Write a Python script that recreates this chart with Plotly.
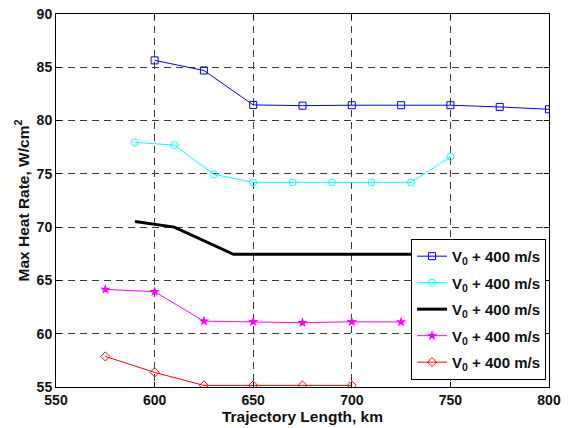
import plotly.graph_objects as go

# Trajectory length (km) and peak heat rate (W/cm^2) for each case
blue_x = [600, 625, 650, 675, 700, 725, 750, 775, 800]
blue_y = [85.65, 84.7, 81.47, 81.4, 81.44, 81.44, 81.44, 81.28, 81.06]

cyan_x = [590, 610, 630, 650, 670, 690, 710, 730, 750]
cyan_y = [77.96, 77.7, 74.96, 74.2, 74.2, 74.2, 74.2, 74.2, 76.6]

black_x = [590, 610, 640, 730]
black_y = [70.53, 70.0, 67.45, 67.45]

magenta_x = [575, 600, 625, 650, 675, 700, 725]
magenta_y = [64.16, 63.94, 61.18, 61.12, 61.03, 61.12, 61.1]

red_x = [575, 600, 625, 650, 675, 700]
red_y = [57.87, 56.37, 55.15, 55.15, 55.15, 55.15]

legend_name = "V<sub>0</sub> + 400 m/s"

x_ticks = [550, 600, 650, 700, 750, 800]
y_ticks = [55, 60, 65, 70, 75, 80, 85, 90]

FONT = "Liberation Sans, Arial, Helvetica"
TXT = "#111111"

fig = go.Figure()

fig.add_trace(go.Scatter(
    x=blue_x, y=blue_y, name=legend_name, mode="lines+markers", legendgroup="a",
    line=dict(color="#0000ff", width=1),
    marker=dict(symbol="square-open", size=7, color="#0000ff", line=dict(width=1)),
))
fig.add_trace(go.Scatter(
    x=cyan_x, y=cyan_y, name=legend_name, mode="lines+markers", legendgroup="b",
    line=dict(color="#00ffff", width=1),
    marker=dict(symbol="circle-open", size=7, color="#00ffff", line=dict(width=1)),
))
fig.add_trace(go.Scatter(
    x=black_x, y=black_y, name=legend_name, mode="lines", legendgroup="c",
    line=dict(color="#000000", width=3),
))
fig.add_trace(go.Scatter(
    x=magenta_x, y=magenta_y, name=legend_name, mode="lines+markers", legendgroup="d",
    line=dict(color="#ff00ff", width=1),
    marker=dict(symbol="star", size=8, color="#ff00ff"),
))
fig.add_trace(go.Scatter(
    x=red_x, y=red_y, name=legend_name, mode="lines+markers", legendgroup="e",
    line=dict(color="#ff0000", width=1),
    marker=dict(symbol="diamond-open", size=7, color="#ff0000", line=dict(width=1)),
))

axis_common = dict(
    showline=True, linecolor="black", linewidth=1, mirror="ticks",
    ticks="inside", ticklen=5, tickcolor="black",
    showgrid=True, gridcolor="#3c3c3c", gridwidth=1, griddash="7px,5px",
    zeroline=False, automargin=False,
    tickfont=dict(family=FONT, size=14, color=TXT, weight="bold"),
)

fig.update_xaxes(
    range=[550, 800], tickvals=x_ticks, ticktext=[str(v) for v in x_ticks],
    title=dict(text="Trajectory Length, km", standoff=4,
               font=dict(family=FONT, size=15.5, color=TXT, weight="bold")),
    **axis_common,
)
fig.update_yaxes(
    range=[55, 90], tickvals=y_ticks, ticktext=[str(v) for v in y_ticks],
    title=dict(text="Max Heat Rate, W/cm<sup>2</sup>", standoff=3,
               font=dict(family=FONT, size=15.5, color=TXT, weight="bold")),
    **axis_common,
)

fig.update_layout(
    width=571, height=428,
    margin=dict(l=56, r=22, t=14, b=41),
    paper_bgcolor="white", plot_bgcolor="white",
    showlegend=True,
    legend=dict(
        x=0.994, y=0.019, xanchor="right", yanchor="bottom",
        bgcolor="white", bordercolor="black", borderwidth=1,
        font=dict(family=FONT, size=15, color=TXT, weight="bold"),
        tracegroupgap=4, itemwidth=30,
    ),
)

fig.write_html("out.html")
